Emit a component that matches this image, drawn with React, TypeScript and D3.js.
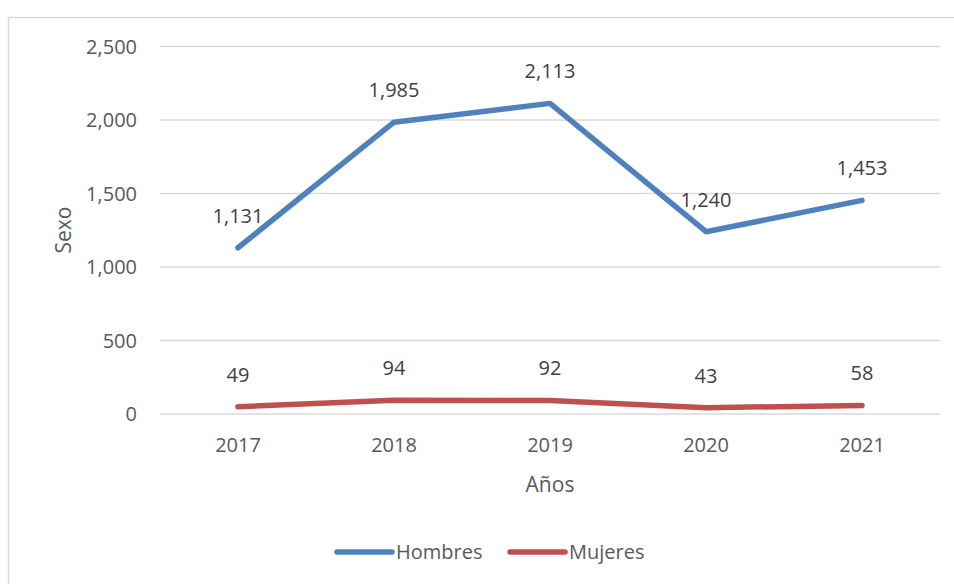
import React from "react";
import * as d3 from "d3";

const years = ["2017", "2018", "2019", "2020", "2021"];
const hombres = [1131, 1985, 2113, 1240, 1453];
const mujeres = [49, 94, 92, 43, 58];
const yTicks = [0, 500, 1000, 1500, 2000, 2500];
const seriesNames = ["Hombres", "Mujeres"];
const seriesColors = ["#4F81BD", "#C0504D"];

const FONT = "'Open Sans', sans-serif";
const TXT = "#595959";

export default function App() {
  const W = 954, H = 584;
  const x = d3.scaleBand<string>().domain(years).range([160, 940]);
  const y = d3.scaleLinear().domain([0, 2500]).range([414, 46.5]);
  const fmt = d3.format(",");
  const line = d3
    .line<number>()
    .x((_, i) => (x(years[i]) as number) + x.bandwidth() / 2)
    .y((d) => y(d));
  const series = [hombres, mujeres];

  return (
    <svg
      width={W}
      height={H}
      style={{ position: "absolute", left: 0, top: 0, background: "#fff" }}
      fontFamily={FONT}
    >
      <rect x={8.5} y={17.5} width={1000} height={700} fill="#fff" stroke="#d9d9d9" strokeWidth={1.5} />
      {yTicks.map((t) => (
        <g key={t}>
          <line x1={160} x2={940} y1={y(t)} y2={y(t)} stroke="#d9d9d9" strokeWidth={1.3} />
          <text x={137} y={y(t)} dy="0.35em" textAnchor="end" fontSize={20} fill={TXT}>
            {fmt(t)}
          </text>
        </g>
      ))}
      {years.map((yr) => (
        <text
          key={yr}
          x={(x(yr) as number) + x.bandwidth() / 2}
          y={445}
          dy="0.35em"
          textAnchor="middle"
          fontSize={20}
          fill={TXT}
        >
          {yr}
        </text>
      ))}
      <text x={550} y={485} dy="0.35em" textAnchor="middle" fontSize={21} fill={TXT}>
        Años
      </text>
      <text
        transform={`translate(64,230) rotate(-90)`}
        dy="0.35em"
        textAnchor="middle"
        fontSize={21}
        fill={TXT}
      >
        Sexo
      </text>
      {series.map((s, si) => (
        <g key={si}>
          <path
            d={line(s) || ""}
            fill="none"
            stroke={seriesColors[si]}
            strokeWidth={5.5}
            strokeLinecap="round"
            strokeLinejoin="round"
          />
          {s.map((v, i) => (
            <text
              key={i}
              x={(x(years[i]) as number) + x.bandwidth() / 2}
              y={y(v) - 32}
              dy="0.35em"
              textAnchor="middle"
              fontSize={20}
              fill="#404040"
            >
              {fmt(v)}
            </text>
          ))}
        </g>
      ))}
      {seriesNames.map((n, i) => {
        const lx = i === 0 ? 337 : 510;
        return (
          <g key={n}>
            <line x1={lx} x2={lx + 55} y1={552} y2={552} stroke={seriesColors[i]} strokeWidth={5.5} strokeLinecap="round" />
            <text x={lx + 59} y={552} dy="0.35em" fontSize={20} fill={TXT}>
              {n}
            </text>
          </g>
        );
      })}
    </svg>
  );
}
